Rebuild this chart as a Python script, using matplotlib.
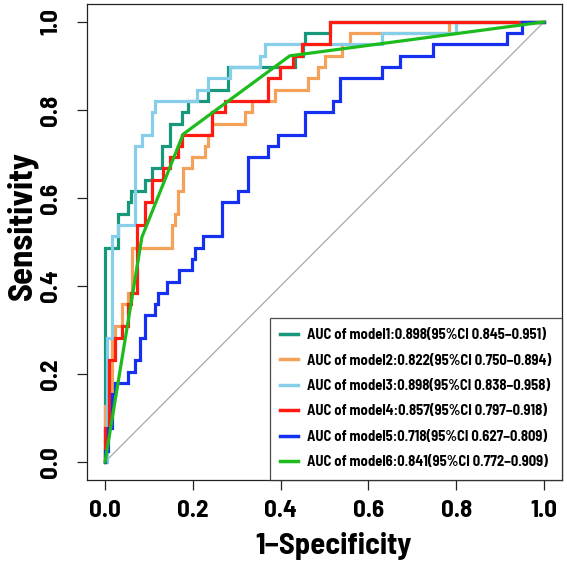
import matplotlib
matplotlib.use("Agg")
import matplotlib.pyplot as plt
from matplotlib.lines import Line2D

FONT = "Barlow Semi Condensed"

# ---- data (1 - specificity at each step, sensitivity reached at that step) ----
m1_fpr = [0, .030, .052, .059, .091, .107, .130, .148, .175, .189, .235, .280, .433, .451, .456, .513]
m1_tpr = [.487, .564, .590, .615, .641, .667, .718, .769, .795, .821, .846, .897, .923, .949, .974, 1.0]

m2_fpr = [0, .015, .023, .038, .053, .061, .152, .159, .167, .178, .197, .228, .235, .243,
          .319, .335, .387, .463, .486, .501, .540, .558, .784]
m2_tpr = [.128, .282, .308, .359, .385, .487, .538, .564, .615, .667, .692, .718, .744, .769,
          .795, .821, .846, .872, .897, .923, .949, .974, 1.0]

m3_fpr = [.005, .016, .030, .068, .084, .106, .114, .209, .235, .285, .353, .364, .630, .800]
m3_tpr = [.282, .513, .538, .718, .744, .795, .821, .846, .872, .897, .923, .949, .974, 1.0]

m4_fpr = [0, .008, .023, .038, .053, .059, .073, .091, .106, .132, .148, .166, .175, .244,
          .273, .371, .399, .428, .449, .513]
m4_tpr = [.077, .231, .282, .308, .359, .385, .538, .590, .641, .667, .692, .718, .744, .795,
          .821, .872, .897, .923, .949, 1.0]

m5_fpr = [0, .007, .015, .023, .053, .068, .080, .091, .114, .121, .141, .169, .197, .205,
          .224, .267, .304, .326, .372, .395, .456, .520, .535, .630, .672, .748, .915, .951]
m5_tpr = [.026, .077, .154, .179, .205, .231, .282, .333, .359, .385, .410, .436, .462, .487,
          .513, .590, .615, .692, .718, .744, .795, .821, .872, .897, .923, .949, .974, 1.0]

m6_fpr = [0, .084, .178, .421, 1.0]
m6_tpr = [0, .511, .745, .923, 1.0]

labels = [
    "AUC of model1:0.898(95%CI 0.845\u22120.951)",
    "AUC of model2:0.822(95%CI 0.750\u22120.894)",
    "AUC of model3:0.898(95%CI 0.838\u22120.958)",
    "AUC of model4:0.857(95%CI 0.797\u22120.918)",
    "AUC of model5:0.718(95%CI 0.627\u22120.809)",
    "AUC of model6:0.841(95%CI 0.772\u22120.909)",
]
colors = ["#17987a", "#f4a259", "#87ceeb", "#ff1a12", "#1530f0", "#1cbc1c"]
ticks = [0.0, 0.2, 0.4, 0.6, 0.8, 1.0]
tick_labels = ["0.0", "0.2", "0.4", "0.6", "0.8", "1.0"]


def steps(fpr, tpr):
    xs, ys = [0.0], [0.0]
    for f, t in zip(fpr, tpr):
        xs += [f, f]
        ys += [ys[-1], t]
    xs.append(1.0)
    ys.append(1.0)
    return xs, ys


fig = plt.figure(figsize=(5.67, 5.66), dpi=100)
ax = fig.add_axes([0.1543, 0.1527, 0.836, 0.8396])
ax.set_xlim(-0.04, 1.04)
ax.set_ylim(-0.04, 1.04)

ax.plot([0, 1], [0, 1], color="#a8a8a8", lw=0.9, zorder=1)

curves = [steps(m1_fpr, m1_tpr), steps(m2_fpr, m2_tpr), steps(m3_fpr, m3_tpr),
          steps(m4_fpr, m4_tpr), steps(m5_fpr, m5_tpr), (m6_fpr, m6_tpr)]
for (xs, ys), c in zip(curves, colors):
    ax.plot(xs, ys, color=c, lw=2.3, solid_joinstyle="miter", zorder=2)

for s in ax.spines.values():
    s.set_linewidth(0.9)
    s.set_color("#222222")

ax.set_xticks(ticks)
ax.set_yticks(ticks)
ax.set_xticklabels(tick_labels, fontfamily=FONT, fontweight="bold", fontsize=18)
ax.set_yticklabels(tick_labels, fontfamily=FONT, fontweight="bold", fontsize=18,
                   rotation=90, va="center")
ax.tick_params(axis="both", direction="out", length=7.5, width=0.9, color="#222222")
ax.tick_params(axis="x", pad=7)
ax.tick_params(axis="y", pad=10.5)

ax.set_xlabel("1\u2212Specificity", fontfamily=FONT, fontweight="bold", fontsize=22)
ax.set_ylabel("Sensitivity", fontfamily=FONT, fontweight="bold", fontsize=25)
ax.xaxis.set_label_coords(0.52, -0.11)
ax.yaxis.set_label_coords(-0.105, 0.535)

handles = [Line2D([0], [0], color=c, lw=2.5) for c in colors]
leg = ax.legend(handles, labels, loc="lower right", bbox_to_anchor=(1.0, 0.0),
                borderaxespad=0, fancybox=False, frameon=True, handlelength=1.25,
                handletextpad=0.57, labelspacing=0.78, borderpad=0.72,
                prop={"family": FONT, "weight": "bold", "size": 10.5})
leg.get_frame().set_edgecolor("#222222")
leg.get_frame().set_linewidth(0.9)

fig.savefig("out.png", dpi=100)
